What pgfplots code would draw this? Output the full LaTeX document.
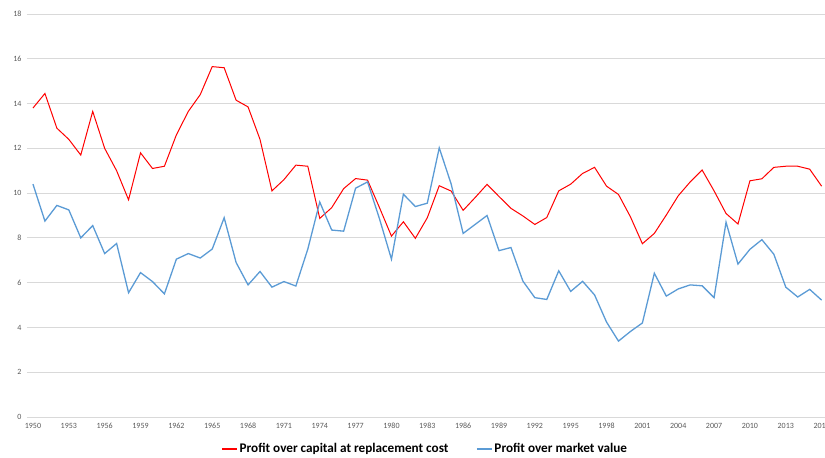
\documentclass[border=0pt]{standalone}
\usepackage{fontspec}
\setmainfont{Carlito}
\usepackage{pgfplots}
\usepackage{pgfplotstable}
\pgfplotsset{compat=1.18}

\definecolor{redline}{RGB}{255,0,0}
\definecolor{blueline}{RGB}{91,155,213}
\definecolor{gridgray}{RGB}{217,217,217}
\definecolor{ticktext}{RGB}{89,89,89}

% year, profit over replacement cost, profit over market value
\pgfplotstableread{
year repl market
1950 13.80 10.40
1951 14.45 8.75
1952 12.90 9.45
1953 12.40 9.25
1954 11.70 8.00
1955 13.65 8.55
1956 12.00 7.30
1957 11.00 7.75
1958 9.70 5.55
1959 11.80 6.45
1960 11.10 6.05
1961 11.20 5.50
1962 12.60 7.05
1963 13.65 7.30
1964 14.40 7.10
1965 15.65 7.50
1966 15.60 8.90
1967 14.15 6.90
1968 13.85 5.90
1969 12.40 6.50
1970 10.10 5.80
1971 10.60 6.05
1972 11.25 5.85
1973 11.20 7.50
1974 8.87 9.60
1975 9.35 8.35
1976 10.20 8.30
1977 10.65 10.22
1978 10.58 10.50
1979 9.35 8.85
1980 8.08 7.05
1981 8.72 9.95
1982 7.98 9.40
1983 8.90 9.55
1984 10.33 12.02
1985 10.09 10.40
1986 9.23 8.20
1987 9.80 8.60
1988 10.39 9.00
1989 9.85 7.43
1990 9.32 7.57
1991 8.98 6.07
1992 8.60 5.33
1993 8.91 5.25
1994 10.10 6.53
1995 10.40 5.61
1996 10.88 6.06
1997 11.15 5.45
1998 10.31 4.24
1999 9.94 3.39
2000 8.94 3.82
2001 7.74 4.20
2002 8.20 6.42
2003 9.02 5.40
2004 9.88 5.72
2005 10.50 5.90
2006 11.03 5.86
2007 10.10 5.33
2008 9.09 8.70
2009 8.62 6.83
2010 10.55 7.49
2011 10.64 7.92
2012 11.15 7.27
2013 11.20 5.80
2014 11.20 5.36
2015 11.07 5.70
2016 10.31 5.22
}\profits

\begin{document}
\begin{tikzpicture}
\begin{axis}[
    name=ax,
    scale only axis,
    width=800.6pt, height=403pt,
    xmin=1949.5, xmax=2016.5,
    ymin=0, ymax=18,
    xtick={1950,1953,...,2016},
    ytick={0,2,...,18},
    ymajorgrids=true,
    grid style={gridgray, line width=0.9pt},
    axis line style={draw=none},
    major tick length=0pt,
    /pgf/number format/assume math mode=true,
    tick label style={font=\fontsize{8}{10}\selectfont, text=ticktext},
    x tick label style={/pgf/number format/1000 sep={}, yshift=-3pt},
    y tick label style={xshift=-2pt},
    legend style={at={(0.497,-0.079)}, anchor=center, draw=none,
        font=\bfseries\fontsize{13.2}{15}\selectfont, legend columns=2,
        nodes={inner sep=1.5pt},
        /tikz/every even column/.append style={column sep=26pt}},
    legend image code/.code={\draw[#1, line width=2pt] (0pt,0pt) -- (15pt,0pt);},
]
\addplot[redline, line width=1pt] table[x=year, y=repl] {\profits};
\addlegendentry{Profit over capital at replacement cost}
\addplot[blueline, line width=1.3pt] table[x=year, y=market] {\profits};
\addlegendentry{Profit over market value}
\end{axis}
\pgfresetboundingbox
\path[use as bounding box] ([shift={(-27pt,-41pt)}]ax.south west) rectangle ([shift={(798pt,14pt)}]ax.north west);
\end{tikzpicture}
\end{document}
